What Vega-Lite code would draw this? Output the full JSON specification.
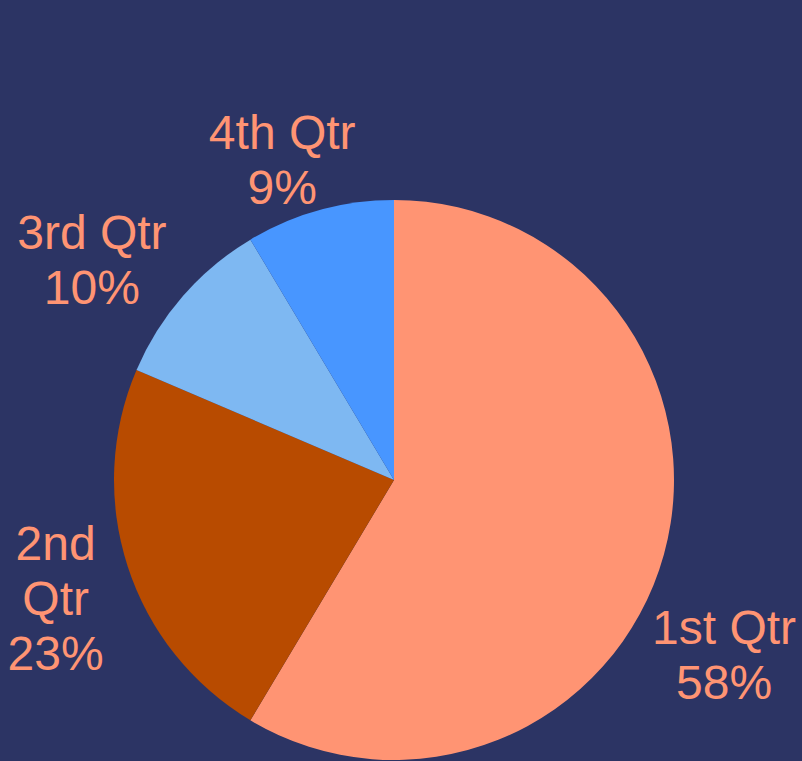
{
  "$schema": "https://vega.github.io/schema/vega-lite/v6.json",
  "width": 560,
  "height": 560,
  "autosize": {"type": "none"},
  "padding": {"left": 114, "top": 200, "right": 128, "bottom": 1},
  "background": "#2c3464",
  "config": {
    "view": {"stroke": null},
    "text": {
      "radius": 360,
      "font": "Liberation Sans",
      "fontSize": 48,
      "lineHeight": 55,
      "lineBreak": "\n",
      "align": "center",
      "baseline": "middle",
      "color": "#ff9473"
    }
  },
  "data": {
    "values": [
      {"qtr": "1st Qtr", "value": 8.2, "label": "1st Qtr\n58%"},
      {"qtr": "2nd Qtr", "value": 3.2, "label": "2nd\nQtr\n23%"},
      {"qtr": "3rd Qtr", "value": 1.4, "label": "3rd Qtr\n10%"},
      {"qtr": "4th Qtr", "value": 1.2, "label": "4th Qtr\n9%"}
    ]
  },
  "transform": [
    {"stack": "value", "groupby": [], "sort": [{"field": "qtr", "order": "ascending"}], "as": ["v0", "v1"]},
    {"calculate": "(datum.v0 + datum.v1) / 2", "as": "mid"}
  ],
  "layer": [
    {
      "mark": {"type": "arc", "outerRadius": 280, "stroke": null},
      "encoding": {
        "theta": {"field": "v0", "type": "quantitative", "stack": null, "scale": {"domain": [0, 14]}},
        "theta2": {"field": "v1"},
        "color": {
          "field": "qtr",
          "type": "nominal",
          "scale": {
            "domain": ["1st Qtr", "2nd Qtr", "3rd Qtr", "4th Qtr"],
            "range": ["#ff9473", "#b84b00", "#7eb8f2", "#4896ff"]
          },
          "legend": null
        }
      }
    },
    {
      "transform": [{"filter": "datum.qtr == '1st Qtr'"}],
      "mark": {"type": "text", "dx": -17, "dy": 54},
      "encoding": {
        "theta": {"field": "mid", "type": "quantitative", "stack": null, "scale": {"domain": [0, 14]}},
        "text": {"field": "label", "type": "nominal"}
      }
    },
    {
      "transform": [{"filter": "datum.qtr == '2nd Qtr'"}],
      "mark": {"type": "text", "dx": 4, "dy": -45},
      "encoding": {
        "theta": {"field": "mid", "type": "quantitative", "stack": null, "scale": {"domain": [0, 14]}},
        "text": {"field": "label", "type": "nominal"}
      }
    },
    {
      "transform": [{"filter": "datum.qtr == '3rd Qtr'"}],
      "mark": {"type": "text", "dx": -31, "dy": -8},
      "encoding": {
        "theta": {"field": "mid", "type": "quantitative", "stack": null, "scale": {"domain": [0, 14]}},
        "text": {"field": "label", "type": "nominal"}
      }
    },
    {
      "transform": [{"filter": "datum.qtr == '4th Qtr'"}],
      "mark": {"type": "text", "dx": -16, "dy": 2},
      "encoding": {
        "theta": {"field": "mid", "type": "quantitative", "stack": null, "scale": {"domain": [0, 14]}},
        "text": {"field": "label", "type": "nominal"}
      }
    }
  ]
}
